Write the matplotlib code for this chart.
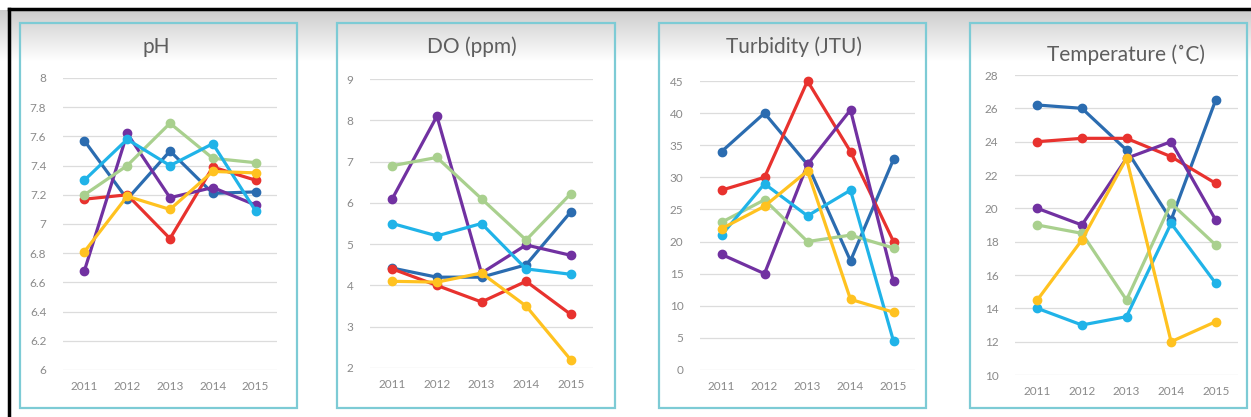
import numpy as np
import matplotlib
matplotlib.use('Agg')
import matplotlib.pyplot as plt
from matplotlib.patches import Rectangle
from matplotlib.lines import Line2D

plt.rcParams['font.family'] = ['Lato', 'DejaVu Sans']

# datos
years = [2011, 2012, 2013, 2014, 2015]
series_colors = ['#2b6cb0', '#e8322e', '#7131a1', '#a9d08e', '#20b3e8', '#ffc220']

ph = [[7.57, 7.17, 7.50, 7.21, 7.22],
      [7.17, 7.20, 6.90, 7.39, 7.30],
      [6.68, 7.62, 7.18, 7.25, 7.13],
      [7.20, 7.40, 7.69, 7.45, 7.42],
      [7.30, 7.58, 7.40, 7.55, 7.09],
      [6.81, 7.19, 7.10, 7.36, 7.35]]

do_ppm = [[4.42, 4.20, 4.20, 4.50, 5.78],
          [4.40, 4.00, 3.60, 4.10, 3.30],
          [6.10, 8.10, 4.30, 4.98, 4.73],
          [6.90, 7.10, 6.10, 5.10, 6.22],
          [5.50, 5.20, 5.50, 4.40, 4.27],
          [4.10, 4.08, 4.30, 3.50, 2.20]]

turbidity = [[34, 40, 32, 17, 32.8],
             [28, 30, 45, 34, 20],
             [18, 15, 32, 40.5, 13.8],
             [23, 26.5, 20, 21, 19],
             [21, 29, 24, 28, 4.5],
             [22, 25.5, 31, 11, 9]]

temperature = [[26.2, 26.0, 23.5, 19.3, 26.5],
               [24.0, 24.2, 24.2, 23.1, 21.5],
               [20.0, 19.0, 23.0, 24.0, 19.3],
               [19.0, 18.5, 14.5, 20.3, 17.8],
               [14.0, 13.0, 13.5, 19.1, 15.5],
               [14.5, 18.1, 23.0, 12.0, 13.2]]

titles = ['pH', 'DO (ppm)', 'Turbidity (JTU)', 'Temperature (˚C)']
panel_data = [ph, do_ppm, turbidity, temperature]
y_ranges = [(6, 8, 0.2), (2, 9, 1), (0, 45, 5), (10, 28, 2)]

W, H = 1251, 417
fig = plt.figure(figsize=(W / 100, H / 100), dpi=100)

def fx(px):
    return px / W

def fy(py):
    return 1 - py / H

# fondo con degradado gris arriba
bg = fig.add_axes([0, 0, 1, 1], zorder=-5)
rows = np.arange(H)
shade = np.ones(H)
band = (rows >= 10) & (rows <= 62)
shade[band] = 0.80 + 0.20 * (rows[band] - 10) / 52
img = np.repeat(shade[:, None], 10, axis=1)
bg.imshow(img, cmap='gray', vmin=0, vmax=1, aspect='auto', extent=[0, 1, 0, 1])
bg.axis('off')

# marco negro
fig.add_artist(Line2D([fx(9), fx(9)], [fy(9), 0], transform=fig.transFigure, color='black', lw=2.5))
fig.add_artist(Line2D([fx(9), 1], [fy(9), fy(9)], transform=fig.transFigure, color='black', lw=2.5))

# cajas (px): borde panel, area de grafico, centro titulo
boxes = [(20, 23, 297, 408), (337, 23, 615, 408), (659, 23, 926, 408), (970, 23, 1247, 408)]
plots = [(63, 78, 277, 370), (370, 79, 593, 368), (700, 81, 915, 370), (1015, 75, 1238, 375)]
title_pos = [(156, 47), (472, 47), (794, 47), (1126, 55)]

for i in range(4):
    x0, y0, x1, y1 = boxes[i]
    fig.add_artist(Rectangle((fx(x0), fy(y1)), fx(x1 - x0), (y1 - y0) / H,
                             transform=fig.transFigure, fill=False,
                             edgecolor='#7dcbd5', lw=1.6))
    tx, ty = title_pos[i]
    fig.text(fx(tx), fy(ty), titles[i], ha='center', va='center',
             fontsize=15, color='#5e5e5e')

    px0, py0, px1, py1 = plots[i]
    ax = fig.add_axes([fx(px0), fy(py1), fx(px1 - px0), (py1 - py0) / H])
    ax.patch.set_alpha(0)
    lo, hi, step = y_ranges[i]
    for vals, c in zip(panel_data[i], series_colors):
        ax.plot(years, vals, color=c, lw=2.3, marker='o', markersize=6,
                solid_joinstyle='round', solid_capstyle='round', clip_on=False)
    ax.set_xlim(2010.5, 2015.5)
    ax.set_ylim(lo, hi)
    ticks = np.round(np.arange(lo, hi + step / 2, step), 2)
    ax.set_yticks(ticks)
    ax.set_yticklabels(['{:g}'.format(t) for t in ticks])
    ax.set_xticks(years)
    ax.set_xticklabels([str(y) for y in years])
    ax.grid(axis='y', color='#dcdcdc', lw=0.9)
    ax.set_axisbelow(True)
    for s in ax.spines.values():
        s.set_visible(False)
    ax.tick_params(length=0, colors='#8a8a8a', labelsize=8.5)
    ax.tick_params(axis='y', pad=12)
    ax.tick_params(axis='x', pad=8)

fig.savefig('out.png', dpi=100)
